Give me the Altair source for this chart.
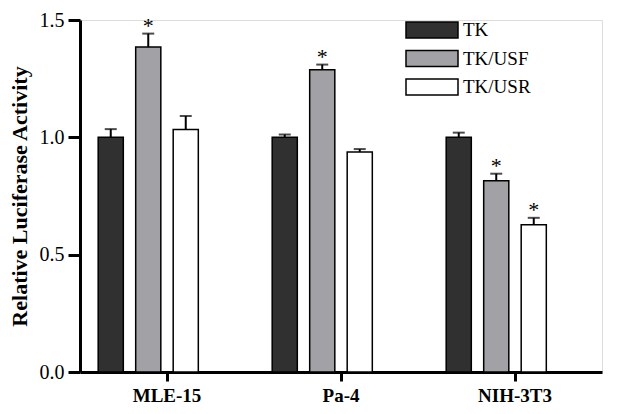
import altair as alt
import pandas as pd

groups = ["MLE-15", "Pa-4", "NIH-3T3"]
series = ["TK", "TK/USF", "TK/USR"]
colors = ["#303030", "#a2a2a6", "#ffffff"]
tk = [1.0, 1.0, 1.0]
tk_err = [0.035, 0.012, 0.02]
usf = [1.385, 1.288, 0.815]
usf_err = [0.057, 0.022, 0.03]
usr = [1.033, 0.938, 0.627]
usr_err = [0.058, 0.012, 0.03]
usf_sig = [True, True, True]
usr_sig = [False, False, True]
tk_sig = [False, False, False]

rows = []
for i, g in enumerate(groups):
    for s, v, e, sig in [("TK", tk[i], tk_err[i], tk_sig[i]),
                         ("TK/USF", usf[i], usf_err[i], usf_sig[i]),
                         ("TK/USR", usr[i], usr_err[i], usr_sig[i])]:
        rows.append({"group": g, "series": s, "value": v, "top": v + e,
                     "star": "*" if sig else ""})
df = pd.DataFrame(rows)

FONT = "Liberation Serif"

x = alt.X("group:N", sort=groups, title=None,
          scale=alt.Scale(paddingInner=0.14, paddingOuter=0.07),
          axis=alt.Axis(labelAngle=0, labelFontWeight="bold", labelFontSize=19,
                        labelFont=FONT, labelColor="black", tickSize=9,
                        tickWidth=3, tickColor="black", domainWidth=3,
                        domainColor="black", labelPadding=5))
xoff = alt.XOffset("series:N", sort=series,
                   scale=alt.Scale(domain=series + ["_"], paddingInner=0.33,
                                   paddingOuter=0.16))

bars = alt.Chart(df).mark_bar(stroke="black", strokeWidth=1.5).encode(
    x=x,
    xOffset=xoff,
    y=alt.Y("value:Q", scale=alt.Scale(domain=[0, 1.5], nice=False),
            title="Relative Luciferase Activity",
            axis=alt.Axis(values=[0, 0.5, 1.0, 1.5], format=".1f", grid=False,
                          labelFont=FONT, labelFontSize=20, labelColor="black",
                          tickSize=12, tickWidth=3, tickColor="black",
                          domainWidth=3, domainColor="black", labelPadding=4,
                          titleFont=FONT, titleFontSize=22, titleFontWeight="bold",
                          titleColor="black", titlePadding=8)),
    fill=alt.Fill("series:N", sort=series,
                  scale=alt.Scale(domain=series, range=colors),
                  legend=alt.Legend(title=None, orient="none", legendX=338,
                                    legendY=-4, labelFont=FONT, labelFontSize=19,
                                    labelColor="black",
                                    symbolType="M-2,-0.62L2,-0.62L2,0.62L-2,0.62Z",
                                    symbolSize=676, symbolStrokeColor="black",
                                    symbolStrokeWidth=1.5, symbolOpacity=1,
                                    rowPadding=2.5, labelOffset=17, padding=0)),
)

err = alt.Chart(df).mark_rule(color="black", strokeWidth=2).encode(
    x=alt.X("group:N", sort=groups), xOffset=xoff,
    y="value:Q", y2="top:Q")

caps = alt.Chart(df).mark_tick(color="black", thickness=2, size=12,
                               orient="horizontal").encode(
    x=alt.X("group:N", sort=groups), xOffset=xoff, y="top:Q")

stars = alt.Chart(df).mark_text(font=FONT, fontSize=22, dy=-8,
                                baseline="middle", color="black").encode(
    x=alt.X("group:N", sort=groups), xOffset=xoff, y="top:Q", text="star:N")

chart = alt.layer(bars, err, caps, stars).properties(
    width=522, height=352,
    autosize=alt.AutoSizeParams(type="none"),
    padding={"left": 72, "top": 12, "right": 9, "bottom": 40},
).configure_view(stroke=None).configure(background="white")

chart.save("out.html", embed_options={"renderer": "svg", "actions": False})
